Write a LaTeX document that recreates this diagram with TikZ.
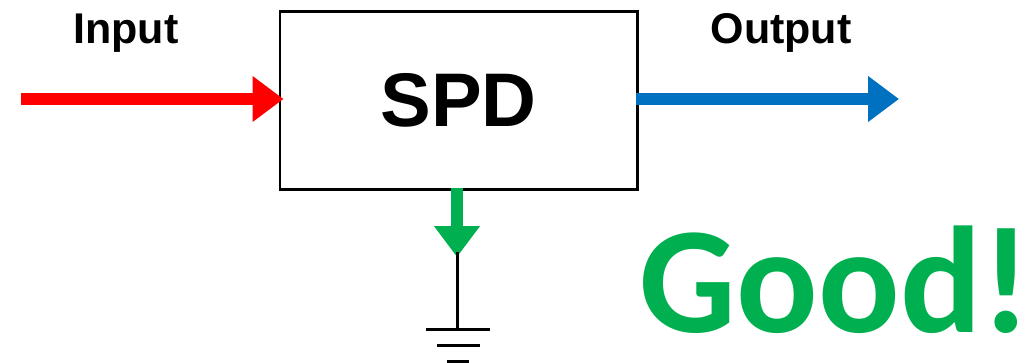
\documentclass[tikz,border=0pt]{standalone}
\usepackage{fontspec}
\setmainfont{Liberation Sans}
\newfontfamily\goodfont{Carlito}
\usetikzlibrary{arrows.meta}
\definecolor{inred}{RGB}{255,0,0}
\definecolor{outblue}{RGB}{0,112,192}
\definecolor{goodgreen}{RGB}{0,176,80}
\tikzset{
  signal/.style={line width=12pt,-{Triangle[length=31pt,width=44pt]}},
  groundline/.style={line width=3pt,black},
  labeltext/.style={inner sep=0pt,font=\fontsize{43}{43}\selectfont\bfseries},
}
\begin{document}
\begin{tikzpicture}[x=1pt,y=-1pt]
\useasboundingbox (0,0) rectangle (1033,362);
\node[draw=black,line width=2.5pt,minimum width=357.5pt,minimum height=178pt,inner sep=0pt,anchor=north west,
      font=\fontsize{76}{76}\selectfont\bfseries] (spd) at (278.5,10) {SPD};
\node[labeltext] (input) at (126,33) {Input};
\node[labeltext] (output) at (781,33) {Output};
\node[inner sep=0pt,text=goodgreen,font=\fontsize{152}{152}\selectfont\bfseries\goodfont] (good) at (835.5,280) {Good!};
\coordinate (instart) at (21,99);
\coordinate (intip) at (283.5,99);
\coordinate (outstart) at (636,99);
\coordinate (outtip) at (899,99);
\coordinate (gtop) at (457,188);
\coordinate (gtip) at (457,257);
\coordinate (wiretop) at (457.5,252);
\coordinate (wirebot) at (457.5,331);
\coordinate (g1l) at (426,329.5);
\coordinate (g1r) at (490,329.5);
\coordinate (g2l) at (437,345.5);
\coordinate (g2r) at (480,345.5);
\coordinate (g3l) at (447,361);
\coordinate (g3r) at (469,361);
\draw[signal,draw=inred,fill=inred] (instart) -- (intip);
\draw[signal,draw=outblue,fill=outblue] (outstart) -- (outtip);
\draw[signal,draw=goodgreen,fill=goodgreen] (gtop) -- (gtip);
\draw[groundline] (wiretop) -- (wirebot);
\draw[groundline] (g1l) -- (g1r);
\draw[groundline] (g2l) -- (g2r);
\draw[groundline] (g3l) -- (g3r);
\end{tikzpicture}
\end{document}
